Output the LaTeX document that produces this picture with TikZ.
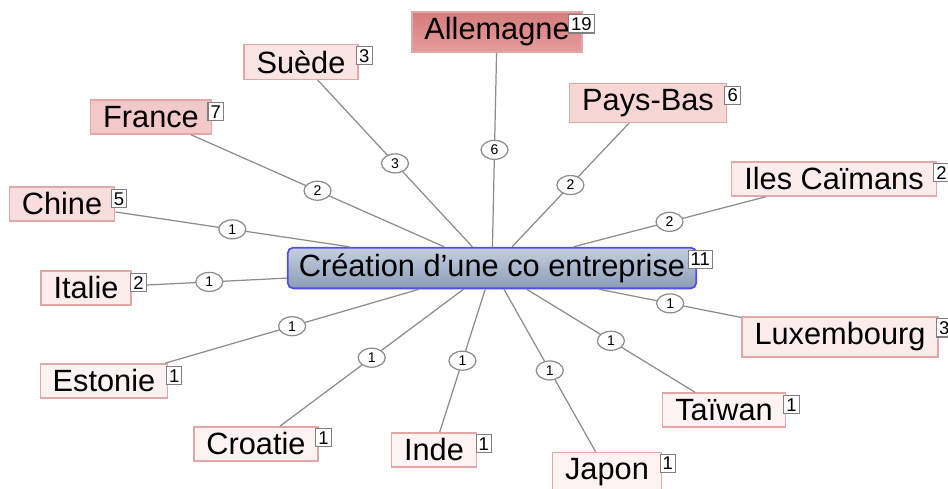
\documentclass[tikz,border=0pt]{standalone}
\usepackage{fontspec}
\setmainfont{Liberation Sans}
\usepackage{xcolor}
\usetikzlibrary{shapes.geometric,calc}
\definecolor{boxborder}{RGB}{226,168,168}
\definecolor{pinkone}{RGB}{253,243,243}
\definecolor{pinktwo}{RGB}{252,236,236}
\definecolor{pinkthree}{RGB}{250,228,228}
\definecolor{pinkfive}{RGB}{248,221,221}
\definecolor{pinksix}{RGB}{247,214,214}
\definecolor{pinkseven}{RGB}{243,200,200}
\definecolor{redtop}{RGB}{214,124,124}
\definecolor{redbottom}{RGB}{230,156,156}
\definecolor{hubtop}{RGB}{196,207,224}
\definecolor{hubbottom}{RGB}{140,156,182}
\definecolor{hubborder}{RGB}{80,80,230}
\definecolor{linkgray}{RGB}{140,140,140}

\begin{document}
\begin{tikzpicture}[x=0.02cm, y=-0.02cm,
  country/.style={draw=boxborder, line width=0.8pt, minimum height=0.68cm, inner xsep=0.25cm, font=\fontsize{17.5}{20}\selectfont},
  hubnode/.style={draw=hubborder, line width=1pt, rounded corners=3pt, top color=hubtop, bottom color=hubbottom, minimum height=0.64cm, inner xsep=0.22cm, font=\fontsize{17.5}{20}\selectfont},
  link/.style={draw=linkgray, line width=0.7pt},
  linkcount/.style={ellipse, draw=linkgray, fill=white, line width=0.7pt, inner sep=0pt, minimum width=0.54cm, minimum height=0.38cm, font=\fontsize{8}{9}\selectfont},
  badge/.style={draw=gray, fill=white, line width=0.6pt, inner sep=1.5pt, minimum width=0.3cm, minimum height=0.34cm, anchor=north east, font=\fontsize{10.5}{12}\selectfont}
]
\useasboundingbox (0,0) rectangle (948,488);

% hub
\node[hubnode] (hub) at (492,268) {Création d’une co entreprise};

% countries
\node[country, top color=redtop, bottom color=redbottom] (all) at (497,32) {Allemagne};
\node[country, fill=pinkthree] (sue) at (301,62) {Suède};
\node[country, fill=pinkseven] (fra) at (151,117) {France};
\node[country, fill=pinkfive] (chi) at (62,204) {Chine};
\node[country, fill=pinktwo] (ita) at (86,288) {Italie};
\node[country, fill=pinkone] (est) at (104,381) {Estonie};
\node[country, fill=pinkone] (cro) at (256,444) {Croatie};
\node[country, fill=pinkone] (ind) at (434,450) {Inde};
\node[country, fill=pinkone] (jap) at (607,472) {Japon};
\node[country, fill=pinkone] (tai) at (724,410) {Taïwan};
\node[country, fill=pinktwo] (lux) at (840,337) {Luxembourg};
\node[country, fill=pinktwo] (cai) at (834,179) {Iles Caïmans};
\node[country, fill=pinksix] (pb) at (648,103) {Pays-Bas};

% links
\draw[link] (hub) -- node[linkcount] {6} (all);
\draw[link] (hub) -- node[linkcount] {3} (sue);
\draw[link] (hub) -- node[linkcount] {2} (fra);
\draw[link] (hub) -- node[linkcount] {1} (chi);
\draw[link] (hub) -- node[linkcount] {1} (ita);
\draw[link] (hub) -- node[linkcount] {1} (est);
\draw[link] (hub) -- node[linkcount] {1} (cro);
\draw[link] (hub) -- node[linkcount] {1} (ind);
\draw[link] (hub) -- node[linkcount] {1} (jap);
\draw[link] (hub) -- node[linkcount] {1} (tai);
\draw[link] (hub) -- node[linkcount] {1} (lux);
\draw[link] (hub) -- node[linkcount] {2} (cai);
\draw[link] (hub) -- node[linkcount] {2} (pb);

% badges
\node[badge] (hubN) at ($(hub.north east)+(16,3)$) {11};
\node[badge] (allN) at ($(all.north east)+(12,3)$) {19};
\node[badge] (sueN) at ($(sue.north east)+(14,2)$) {3};
\node[badge] (fraN) at ($(fra.north east)+(12,3)$) {7};
\node[badge] (chiN) at ($(chi.north east)+(12,3)$) {5};
\node[badge] (itaN) at ($(ita.north east)+(15,3)$) {2};
\node[badge] (estN) at ($(est.north east)+(14,3)$) {1};
\node[badge] (croN) at ($(cro.north east)+(13,2)$) {1};
\node[badge] (indN) at ($(ind.north east)+(15,2)$) {1};
\node[badge] (japN) at ($(jap.north east)+(14,2)$) {1};
\node[badge] (taiN) at ($(tai.north east)+(14,3)$) {1};
\node[badge] (luxN) at ($(lux.north east)+(14,2)$) {3};
\node[badge] (caiN) at ($(cai.north east)+(13,2)$) {2};
\node[badge] (pbN) at ($(pb.north east)+(14,3)$) {6};

\end{tikzpicture}
\end{document}
